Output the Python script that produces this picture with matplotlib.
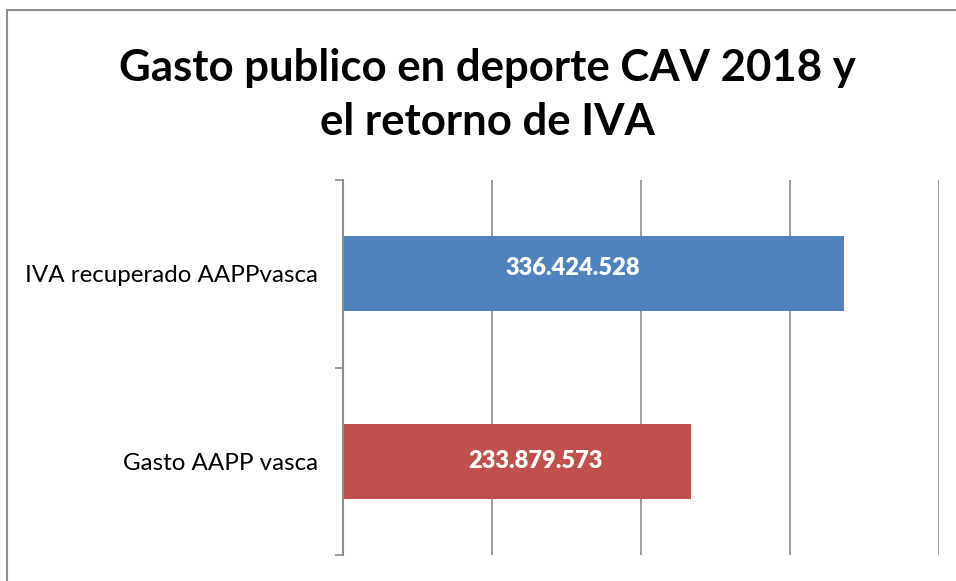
import matplotlib
matplotlib.use("Agg")
import matplotlib.pyplot as plt
from matplotlib.patches import Rectangle
from matplotlib.ticker import FixedLocator

categories = ["Gasto AAPP vasca", "IVA recuperado AAPPvasca"]
values = [233879573, 336424528]
value_labels = ["233.879.573", "336.424.528"]
colors = ["#C0504D", "#4F81BD"]
title = "Gasto publico en deporte CAV 2018 y\nel retorno de IVA"

FONT = "Lato"
W, H = 956, 581
fig = plt.figure(figsize=(W / 100, H / 100), dpi=100)
fig.patch.set_facecolor("white")

# outer chart frame
fig.patches.append(Rectangle((7 / W, -0.1), 1.2, 1 - 10 / H + 0.1,
                             transform=fig.transFigure, fill=False,
                             edgecolor="#8c8c8c", linewidth=1.5))

left, right = 343 / W, 939 / W
top, bottom = 1 - 180 / H, 1 - 555 / H
ax = fig.add_axes([left, bottom, right - left, top - bottom])

y = range(len(categories))
bars = ax.barh(y, values, height=0.4, color=colors, zorder=3)
ax.set_xlim(0, 400000000)
ax.set_ylim(-0.5, 1.5)

ax.xaxis.set_major_locator(FixedLocator([100000000, 200000000, 300000000, 400000000]))
ax.grid(axis="x", color="#8c8c8c", linewidth=1.2, zorder=0)
ax.tick_params(axis="x", length=0, labelbottom=False)
ax.set_yticks([-0.5, 0.5, 1.5], minor=False)
ax.set_yticklabels([])
ax.tick_params(axis="y", which="major", length=6, width=1.2, color="#8c8c8c", direction="out")
ax.set_yticks(list(y), minor=True)
ax.set_yticklabels(categories, minor=True, fontfamily=FONT, fontsize=17.4, color="black")
ax.tick_params(axis="y", which="minor", length=0, pad=18)

for s in ["top", "right", "bottom"]:
    ax.spines[s].set_visible(False)
ax.spines["left"].set_color("#8c8c8c")
ax.spines["left"].set_linewidth(1.5)
ax.spines["left"].set_zorder(4)

offsets = [(18, 0), (-21, 6)]  # pixel nudges of the labels, as in the original
for b, lab, off in zip(bars, value_labels, offsets):
    ax.annotate(lab, (b.get_width() / 2, b.get_y() + b.get_height() / 2),
                xytext=off, textcoords="offset pixels",
                ha="center", va="center", color="white", fontsize=17,
                fontweight="heavy", fontfamily=FONT, zorder=5)

fig.text(487 / W, 1 - 95 / H, title, ha="center", va="center",
         fontsize=31.5, fontweight="bold", fontfamily=FONT,
         linespacing=1.45, color="black")

fig.savefig("out.png", dpi=100, facecolor="white")
